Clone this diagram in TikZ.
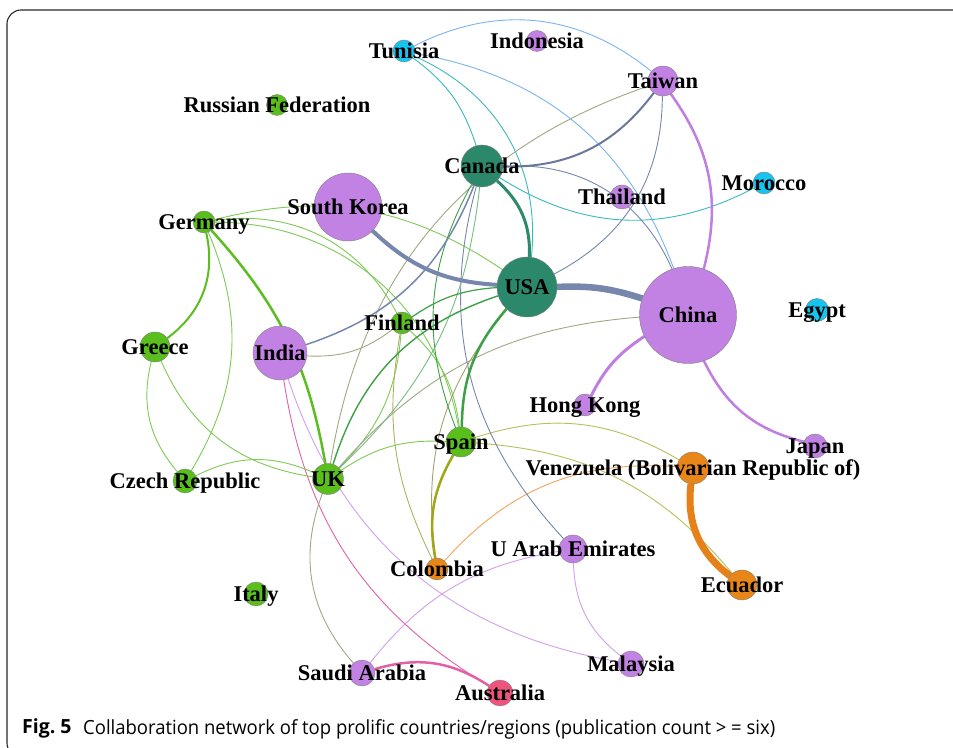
\documentclass[tikz,border=0pt]{standalone}
\usepackage{fontspec}
\usepackage{graphicx}
\usetikzlibrary{backgrounds}
\setmainfont{Liberation Serif}
\newfontfamily\capfont{Open Sans}
\definecolor{cPur}{RGB}{194,130,228}
\definecolor{cCya}{RGB}{22,196,240}
\definecolor{cGrn}{RGB}{90,190,28}
\definecolor{cDkg}{RGB}{44,136,106}
\definecolor{cOrg}{RGB}{232,134,24}
\definecolor{cPnk}{RGB}{238,84,124}
\definecolor{eBlg}{RGB}{118,134,172}
\definecolor{eDkg}{RGB}{46,138,108}
\definecolor{ePur}{RGB}{192,126,226}
\definecolor{eOrgT}{RGB}{230,128,24}
\definecolor{eOrg}{RGB}{240,165,90}
\definecolor{ePnk}{RGB}{226,96,166}
\definecolor{eLav}{RGB}{208,160,240}
\definecolor{eTan}{RGB}{160,168,130}
\definecolor{eOlv}{RGB}{184,190,90}
\definecolor{eOlvT}{RGB}{160,166,24}
\definecolor{eMix}{RGB}{60,160,70}
\definecolor{eLgr}{RGB}{125,202,85}
\definecolor{eGrn}{RGB}{92,190,30}
\definecolor{eTea}{RGB}{60,184,192}
\definecolor{eLbl}{RGB}{120,180,240}
\definecolor{eKha}{RGB}{166,160,110}
\definecolor{frameC}{RGB}{40,40,40}
\begin{document}
\begin{tikzpicture}[x=1pt,y=1pt,
  vert/.style={circle, draw=black!50, line width=0.4pt, inner sep=0pt, outer sep=0pt},
  lab/.style={font=\fontsize{22.5}{24}\selectfont\bfseries, anchor=base, yshift=-7.5pt, inner sep=0pt},
  ed/.style={line width=0.9pt}]
\useasboundingbox (0,0) rectangle (953,747);
% nodes
\node[vert, fill=cCya, minimum size=22pt] (tun) at (404,696) {};
\node[vert, fill=cPur, minimum size=21pt] (ido) at (537,706) {};
\node[vert, fill=cPur, minimum size=30pt] (tw) at (663,666) {};
\node[vert, fill=cGrn, minimum size=21pt] (rus) at (277,642) {};
\node[vert, fill=cDkg, minimum size=42pt] (can) at (482,581) {};
\node[vert, fill=cCya, minimum size=22pt] (mor) at (764,564) {};
\node[vert, fill=cPur, minimum size=68pt] (sk) at (348,540) {};
\node[vert, fill=cPur, minimum size=24pt] (tha) at (622,550) {};
\node[vert, fill=cGrn, minimum size=22pt] (ger) at (204,525) {};
\node[vert, fill=cDkg, minimum size=60pt] (usa) at (527,460) {};
\node[vert, fill=cPur, minimum size=97pt] (chn) at (688,432) {};
\node[vert, fill=cCya, minimum size=23pt] (egy) at (817,437) {};
\node[vert, fill=cGrn, minimum size=22pt] (fin) at (402,424) {};
\node[vert, fill=cGrn, minimum size=30pt] (gre) at (155,400) {};
\node[vert, fill=cPur, minimum size=54pt] (ind) at (280,394) {};
\node[vert, fill=cPur, minimum size=22pt] (hk) at (585,342) {};
\node[vert, fill=cGrn, minimum size=30pt] (spa) at (461,305) {};
\node[vert, fill=cPur, minimum size=24pt] (jap) at (815,301) {};
\node[vert, fill=cOrg, minimum size=32pt] (ven) at (693,279) {};
\node[vert, fill=cGrn, minimum size=24pt] (cze) at (185,266) {};
\node[vert, fill=cGrn, minimum size=31pt] (uk) at (328,268) {};
\node[vert, fill=cPur, minimum size=28pt] (uae) at (573,198) {};
\node[vert, fill=cOrg, minimum size=22pt] (col) at (437,178) {};
\node[vert, fill=cOrg, minimum size=30pt] (ecu) at (742,162) {};
\node[vert, fill=cGrn, minimum size=24pt] (ita) at (256,153) {};
\node[vert, fill=cPur, minimum size=26pt] (mal) at (631,83) {};
\node[vert, fill=cPur, minimum size=26pt] (sau) at (362,74) {};
\node[vert, fill=cPnk, minimum size=26pt] (aus) at (500,54) {};
% edges behind nodes
\begin{scope}[on background layer]
\draw[frameC, line width=1.1pt, rounded corners=14pt] (990,737) -- (7,737) -- (7,-10) -- (60,-10);
\draw[ed, ePnk] (ind) to[bend right=25] (aus);
\draw[ed, eLav] (ind) to[bend right=31] (mal);
\draw[ed, eLav] (uae) to[bend right=21] (sau);
\draw[ed, eLav] (uae) to[bend right=25] (mal);
\draw[ed, eTan] (uk) to[bend right=31] (sau);
\draw[ed, eOrg] (col) to[bend left=26] (ven);
\draw[ed, eOlv] (spa) to[bend left=24] (ven);
\draw[ed, eOlv] (spa) to[bend left=23] (ecu);
\draw[ed, eLgr] (ger) to[bend left=27] (cze);
\draw[ed, eLgr] (gre) to[bend right=27] (cze);
\draw[ed, eLgr] (gre) to[bend right=29] (uk);
\draw[ed, eLgr] (cze) to[bend left=25] (uk);
\draw[ed, eLgr] (ger) to[bend left=24] (usa);
\draw[ed, eLgr] (ger) to[bend left=40] (spa);
\draw[ed, eLgr] (ger) to[bend left=35] (fin);
\draw[ed, eLgr] (fin) to[bend left=20] (spa);
\draw[ed, eLgr] (fin) to[bend left=20] (uk);
\draw[ed, eOlv!80!gray] (fin) to[bend right=18] (col);
\draw[ed, eTan] (uk) to[bend left=22] (chn);
\draw[ed, eTan] (tw) to[bend right=31] (uk);
\draw[ed, eBlg] (can) to[bend right=29] (uae);
\draw[ed, eBlg] (can) to[bend left=35] (chn);
\draw[ed, eBlg] (tw) to[bend left=31] (usa);
\draw[ed, eTea] (tun) to[bend left=18] (can);
\draw[ed, eTea] (tun) to[bend left=36] (usa);
\draw[ed, eLbl] (tun) to[bend left=30] (chn);
\draw[ed, eLbl] (tun) to[bend left=33] (tw);
\draw[ed, eTea] (can) to[bend right=30] (mor);
\draw[ed, eLgr] (uk) to[bend left=18] (spa);
\draw[ed, eKha] (usa) to[bend right=24] (col);
\draw[ed, eTan] (ind) to[bend right=20] (fin);
\draw[ed, eMix] (can) to[bend right=25] (spa);
\draw[ed, eMix!70!white] (can) to[bend left=20] (uk);
\draw[ed, eMix, line width=1.2pt] (fin) to[bend left=15] (usa);
\draw[ed, eMix, line width=1.4pt] (uk) to[bend left=27] (usa);
\draw[ed, eBlg, line width=1.5pt] (ind) to[bend right=25] (can);
\draw[ed, eBlg!90!black, line width=2pt] (can) to[bend right=27] (tw);
\draw[ed, ePnk, line width=2.5pt] (sau) to[bend left=25] (aus);
\draw[ed, eOlvT, line width=2.5pt] (spa) to[bend right=20] (col);
\draw[ed, eMix, line width=2.5pt] (usa) to[bend right=20] (spa);
\draw[ed, eGrn, line width=2.5pt] (ger) to[bend left=16] (uk);
\draw[ed, eGrn, line width=2pt] (ger) to[bend left=33] (gre);
\draw[ed, ePur, line width=2.5pt] (tw) to[bend left=25] (chn);
\draw[ed, ePur, line width=3pt] (chn) to[bend right=15] (hk);
\draw[ed, ePur, line width=2.5pt] (chn) to[bend right=25] (jap);
\draw[ed, eDkg, line width=3pt] (can) to[bend left=25] (usa);
\draw[ed, eBlg, line width=4pt] (sk) to[bend right=20] (usa);
\draw[ed, eBlg, line width=6.5pt] (usa) to[bend left=10] (chn);
\draw[ed, eOrgT, line width=7pt] (ven) to[bend right=30] (ecu);
\end{scope}
% labels
\node[lab] (tunL) at (tun) {Tunisia};
\node[lab] (idoL) at (ido) {Indonesia};
\node[lab] (twL) at (tw) {Taiwan};
\node[lab] (rusL) at (rus) {Russian Federation};
\node[lab] (canL) at (can) {Canada};
\node[lab] (morL) at (mor) {Morocco};
\node[lab] (skL) at (sk) {South Korea};
\node[lab] (thaL) at (tha) {Thailand};
\node[lab] (gerL) at (ger) {Germany};
\node[lab] (usaL) at (usa) {USA};
\node[lab] (chnL) at (chn) {China};
\node[lab] (egyL) at (egy) {Egypt};
\node[lab] (finL) at (fin) {Finland};
\node[lab] (greL) at (gre) {Greece};
\node[lab] (indL) at (ind) {India};
\node[lab] (hkL) at (hk) {Hong Kong};
\node[lab] (spaL) at (spa) {Spain};
\node[lab] (japL) at (jap) {Japan};
\node[lab] (venL) at (ven) {Venezuela (Bolivarian Republic of)};
\node[lab] (czeL) at (cze) {Czech Republic};
\node[lab] (ukL) at (uk) {UK};
\node[lab] (uaeL) at (uae) {U Arab Emirates};
\node[lab] (colL) at (col) {Colombia};
\node[lab] (ecuL) at (ecu) {Ecuador};
\node[lab] (itaL) at (ita) {Italy};
\node[lab] (malL) at (mal) {Malaysia};
\node[lab] (sauL) at (sau) {Saudi Arabia};
\node[lab] (ausL) at (aus) {Australia};
% caption
\node[anchor=base west, inner sep=0pt] (figL) at (22,13) {\capfont\bfseries\fontsize{19.5}{22}\selectfont Fig.\ 5};
\node[anchor=base west, inner sep=0pt] (capT) at (83,13) {\resizebox{692pt}{\height}{\capfont\fontsize{19.5}{22}\selectfont Collaboration network of top prolific countries/regions (publication count > = six)}};
\end{tikzpicture}
\end{document}
